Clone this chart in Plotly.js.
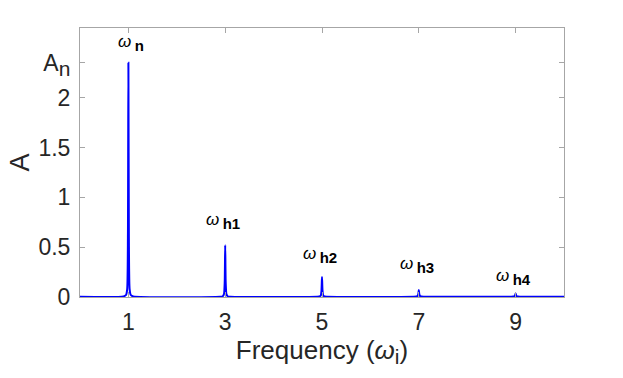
<!DOCTYPE html>
<html><head><meta charset="utf-8">
<script src="https://cdn.plot.ly/plotly-3.0.1.min.js"></script>
<style>body{margin:0;background:#fff}#c{width:623px;height:378px}</style>
</head><body><div id="c"></div>
<script>
// Spectrum samples (frequency in units of omega_i, amplitude A)
const freq = [0, 0.90, 0.95, 0.975, 0.99, 1.0, 1.01, 1.025, 1.05, 1.10,
              2.90, 2.95, 2.975, 2.99, 3.0, 3.01, 3.025, 3.05, 3.10,
              4.90, 4.95, 4.975, 4.99, 5.0, 5.01, 5.025, 5.05, 5.10,
              6.90, 6.95, 6.975, 6.99, 7.0, 7.01, 7.025, 7.05, 7.10,
              8.90, 8.95, 8.975, 8.99, 9.0, 9.01, 9.025, 9.05, 9.10, 10];
const amp  = [0.003, 0.006, 0.02, 0.08, 0.6, 2.35, 0.6, 0.08, 0.02, 0.006,
              0.003, 0.008, 0.03, 0.15, 0.52, 0.15, 0.03, 0.008, 0.003,
              0.003, 0.006, 0.015, 0.07, 0.20, 0.07, 0.015, 0.006, 0.003,
              0.003, 0.005, 0.01, 0.03, 0.07, 0.03, 0.01, 0.005, 0.003,
              0.003, 0.004, 0.008, 0.018, 0.035, 0.018, 0.008, 0.004, 0.003, 0.003];

const xTicks = [1, 3, 5, 7, 9];
const yTickVals = [0, 0.5, 1, 1.5, 2, 2.35];
const yTickText = ['0', '0.5', '1', '1.5', '2', 'A<sub><span style="font-size:21px">n</span></sub>'];

const peakX = [1, 3, 5, 7, 9];
const peakLabelY = [2.55, 0.76, 0.42, 0.32, 0.20];
const peakLabels = ['n', 'h1', 'h2', 'h3', 'h4'];
const peakLabelShift = [3, -2, -2, -2, -2];

const axisColor = '#a6a6a6';
const textColor = '#262626';
const fontFam = 'Liberation Sans, Arial, sans-serif';

const trace = {
  x: freq, y: amp, type: 'scatter', mode: 'lines',
  line: {color: '#0000ff', width: 2, shape: 'spline', smoothing: 0.6},
  hoverinfo: 'none'
};

const annotations = peakX.map((x, i) => ({
  x: x, y: peakLabelY[i], xref: 'x', yref: 'y', showarrow: false,
  text: '<i>ω</i>\u2009<sub><span style="font-size:15px"><b>' + peakLabels[i] + '</b></span></sub>',
  font: {family: fontFam, size: 17, color: '#000'},
  xanchor: 'center', yanchor: 'middle', xshift: peakLabelShift[i]
}));

const layout = {
  width: 623, height: 378,
  margin: {l: 80, r: 59, t: 28, b: 81},
  paper_bgcolor: '#fff', plot_bgcolor: '#fff',
  showlegend: false,
  font: {family: fontFam, color: textColor},
  xaxis: {
    range: [0, 10], tickvals: xTicks, ticktext: xTicks.map(String),
    showgrid: false, zeroline: false, showline: true, mirror: 'ticks',
    linecolor: axisColor, linewidth: 1,
    ticks: 'inside', ticklen: 5, tickcolor: axisColor,
    ticklabelstandoff: 4,
    tickfont: {size: 23, color: textColor},
    title: {text: 'Frequency (<i>ω</i><sub><span style="font-size:21px">i</span></sub>)', font: {size: 26, color: textColor}, standoff: 4}
  },
  yaxis: {
    range: [0, 2.7], tickvals: yTickVals, ticktext: yTickText,
    showgrid: false, zeroline: false, showline: true, mirror: 'ticks',
    linecolor: axisColor, linewidth: 1,
    ticks: 'inside', ticklen: 5, tickcolor: axisColor,
    ticklabelstandoff: 4,
    tickfont: {size: 23, color: textColor},
    title: {text: 'A', font: {size: 27, color: textColor}, standoff: 0}
  },
  annotations: annotations
};

Plotly.newPlot('c', [trace], layout, {displayModeBar: false, staticPlot: true});
</script>
</body></html>
